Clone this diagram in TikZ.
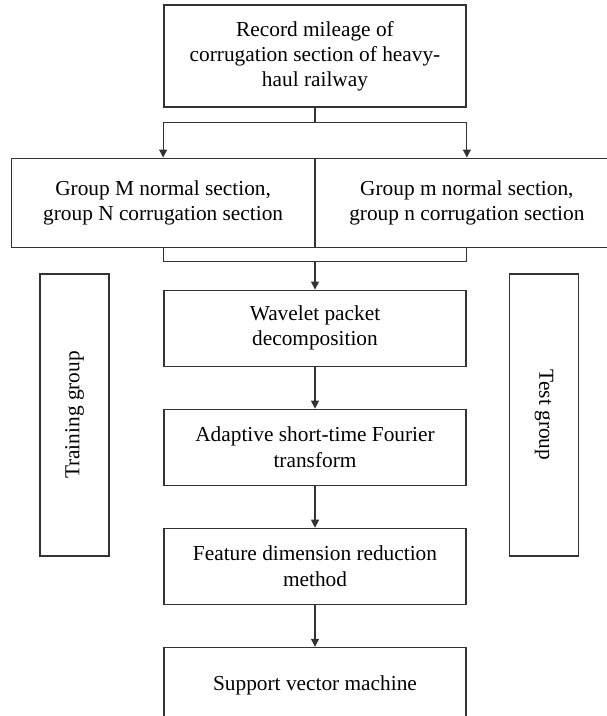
\documentclass[tikz,border=0pt]{standalone}
\usepackage{fontspec}
\setmainfont{Liberation Serif}
\usetikzlibrary{positioning, arrows.meta}

\begin{document}
\begin{tikzpicture}[
			x=0.75pt, y=-0.75pt,
			node distance=31.5pt,
			box/.style={
				rectangle,
				draw=black!80,
				line width=0.8pt,
				fill=white,
				minimum width=226.5pt,
				minimum height=57pt,
				align=center,
				inner sep=2pt,
				font=\fontsize{16}{18.9}\selectfont,
			},
			half/.style={box, minimum width=227pt, minimum height=66.75pt},
			side/.style={box, minimum width=211.5pt, minimum height=51.75pt},
			link/.style={draw=black!80, line width=0.8pt},
			arrow/.style={link, -{Triangle[length=6pt, width=6pt]}},
			]
			\useasboundingbox (0,0) rectangle (606,716);
			
			\node[box, minimum height=76.5pt] (rec) at (315,56) {Record mileage of\\corrugation section of heavy-\\haul railway};
			\node[half, anchor=north east] (grpM) at ([yshift=-37.5pt]rec.south) {Group M normal section,\\group N corrugation section};
			\node[half, anchor=north west] (grpm) at ([yshift=-37.5pt]rec.south) {Group m normal section,\\group n corrugation section};
			\node[box, anchor=north] (wpd) at ([yshift=-31.5pt]grpM.south east) {Wavelet packet\\decomposition};
			\node[box, below=of wpd] (stft) {Adaptive short-time Fourier\\transform};
			\node[box, below=of stft] (fdr) {Feature dimension reduction\\method};
			\node[box, below=of fdr] (svm) {Support vector machine};
			
			\node[side, rotate=90] (train) at (74.5,415) {Training group};
			\node[side, rotate=-90] (test) at (544,415) {Test group};
			
			\coordinate (split) at ([yshift=-11.25pt]rec.south);
			\coordinate (join) at ([yshift=-10.5pt]grpM.south east);
			
			\draw[link] (rec) -- (split);
			\draw[arrow] (split) -| (grpM);
			\draw[arrow] (split) -| (grpm);
			\draw[link] (grpM.south) |- (join) -| (grpm.south);
			\draw[arrow] (join) -- (wpd);
			\draw[arrow] (wpd) -- (stft);
			\draw[arrow] (stft) -- (fdr);
			\draw[arrow] (fdr) -- (svm);
		\end{tikzpicture}
\end{document}
